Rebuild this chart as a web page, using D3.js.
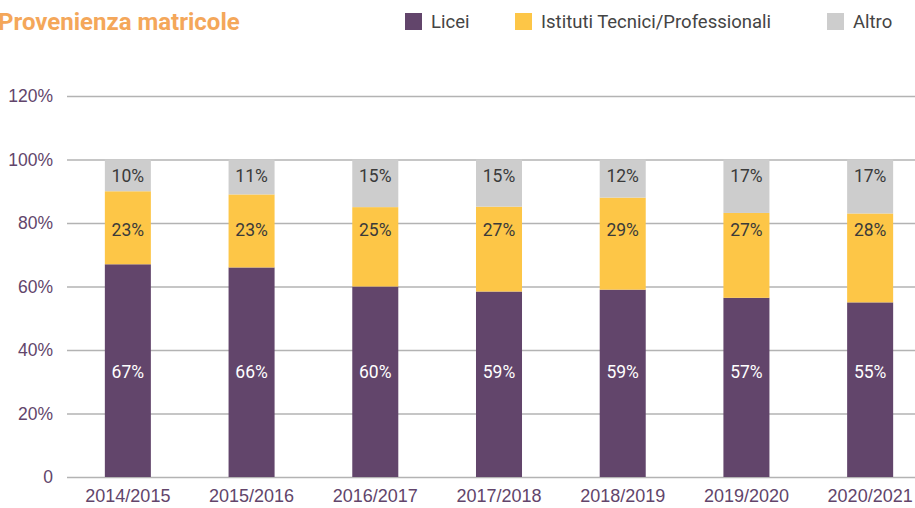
<!DOCTYPE html>
<html>
<head>
<meta charset="utf-8">
<script src="https://cdn.jsdelivr.net/npm/d3@7"></script>
<style>
  body { margin: 0; background: #fff; }
  svg { display: block; font-family: Roboto, "Noto Sans", sans-serif; }
</style>
</head>
<body>
<div class="chart"></div>
<script>
const years = ["2014/2015", "2015/2016", "2016/2017", "2017/2018", "2018/2019", "2019/2020", "2020/2021"];
const licei = [67, 66, 60, 59, 59, 57, 55];
const tecnici = [23, 23, 25, 27, 29, 27, 28];
const altro = [10, 11, 15, 15, 12, 17, 17];
const seriesNames = ["Licei", "Istituti Tecnici/Professionali", "Altro"];
const yTicks = [0, 20, 40, 60, 80, 100, 120];

const width = 915;
const height = 508;
const colors = ["#62456b", "#fdc647", "#cdcdcd"];

const rows = years.map((y, i) => ({year: y, Licei: licei[i], "Istituti Tecnici/Professionali": tecnici[i], Altro: altro[i]}));
// 100% stacked: each column is normalized to its total
const stacked = d3.stack().keys(seriesNames).offset(d3.stackOffsetExpand)(rows);

const svg = d3.select(".chart").append("svg")
  .attr("width", width)
  .attr("height", height);

const x = d3.scaleBand()
  .domain(years)
  .range([66, 932])
  .paddingInner(0.628)
  .paddingOuter(0.314);

const y = d3.scaleLinear()
  .domain([0, 120])
  .range([477, 96]);

// gridlines + y labels
const yAxis = svg.append("g")
  .attr("transform", "translate(67,0)")
  .call(d3.axisLeft(y).tickValues(yTicks).tickSize(-(width - 67)).tickFormat(d => d === 0 ? "0" : d + "%"));
yAxis.select(".domain").remove();
yAxis.selectAll(".tick line").attr("stroke", "#b3b3b3").attr("stroke-width", 1.6);
yAxis.selectAll(".tick text")
  .attr("x", -14)
  .attr("fill", "#62456b")
  .style("font-size", "17.5px");

// bars
const layer = svg.append("g").selectAll("g")
  .data(stacked)
  .join("g")
  .attr("fill", (d, i) => colors[i]);

layer.selectAll("rect")
  .data(d => d)
  .join("rect")
  .attr("x", d => x(d.data.year))
  .attr("width", x.bandwidth())
  .attr("y", d => y(d[1] * 100))
  .attr("height", d => y(d[0] * 100) - y(d[1] * 100));

// value labels sit at a fixed height per series
const labelLevels = [33.2, 77.8, 94.8];
const labelColors = ["#ffffff", "#3a3a3a", "#3a3a3a"];
const seriesValues = [licei, tecnici, altro];
seriesValues.forEach((vals, s) => {
  svg.append("g").selectAll("text")
    .data(vals)
    .join("text")
    .attr("x", (d, i) => x(years[i]) + x.bandwidth() / 2)
    .attr("y", y(labelLevels[s]))
    .attr("dy", "0.35em")
    .attr("text-anchor", "middle")
    .attr("fill", labelColors[s])
    .style("font-size", "17.5px")
    .text(d => d + "%");
});

// x labels
const xAxis = svg.append("g")
  .attr("transform", "translate(0,477)")
  .call(d3.axisBottom(x).tickSize(0));
xAxis.select(".domain").remove();
xAxis.selectAll(".tick text")
  .attr("y", 12)
  .attr("dy", "0.71em")
  .attr("fill", "#62456b")
  .style("font-size", "18px");

// title
svg.append("text")
  .attr("x", -2)
  .attr("y", 30)
  .attr("fill", "#f4a75a")
  .style("font-size", "24px")
  .style("font-weight", "bold")
  .text("Provenienza matricole");

// legend
const legendX = [405, 515, 827];
const legend = svg.append("g").selectAll("g")
  .data(seriesNames)
  .join("g")
  .attr("transform", (d, i) => `translate(${legendX[i]},13)`);
legend.append("rect")
  .attr("width", 17)
  .attr("height", 17)
  .attr("fill", (d, i) => colors[i]);
legend.append("text")
  .attr("x", 26)
  .attr("y", 9)
  .attr("dy", "0.35em")
  .attr("fill", "#444")
  .style("font-size", "18.5px")
  .text(d => d);
</script>
</body>
</html>
